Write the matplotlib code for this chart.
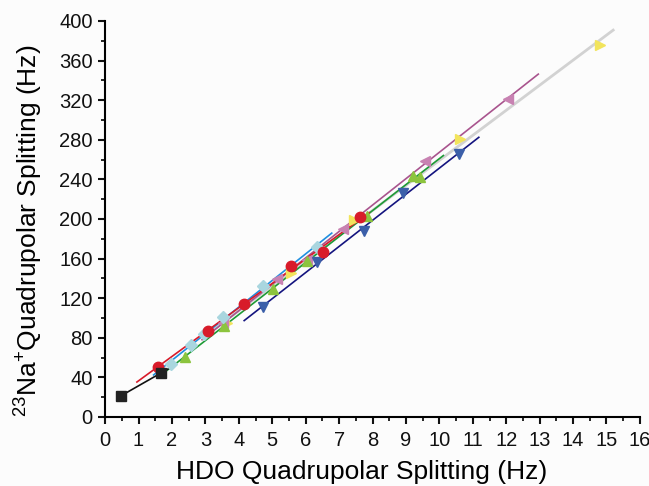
import numpy as np
import matplotlib
matplotlib.use("Agg")
import matplotlib.pyplot as plt
from matplotlib.ticker import MultipleLocator

plt.rcParams['font.family'] = ['Liberation Sans', 'DejaVu Sans']
plt.rcParams['mathtext.fontset'] = 'custom'
plt.rcParams['mathtext.rm'] = 'Liberation Sans'
plt.rcParams['mathtext.default'] = 'regular'

# data (HDO splitting, Na splitting)
black_x = [0.48, 1.67]
black_y = [21.5, 44.4]
red_x = [1.58, 3.07, 4.16, 5.55, 6.53, 7.63]
red_y = [50.8, 86.9, 114.4, 152.5, 167.0, 201.7]
green_x = [2.38, 3.56, 5.03, 6.03, 7.82, 9.22, 9.42]
green_y = [61.0, 92.0, 129.3, 158.0, 203.0, 243.8, 242.7]
navy_x = [4.73, 6.33, 7.73, 8.92, 10.6]
navy_y = [111.4, 157.0, 188.0, 226.0, 266.0]
purple_x = [3.54, 5.13, 6.03, 7.13, 9.57, 12.06]
purple_y = [95.3, 139.4, 158.6, 189.6, 259.0, 321.0]
yellow_x = [3.64, 5.55, 7.45, 10.62, 14.8]
yellow_y = [94.6, 145.0, 199.0, 280.5, 375.8]
cyan_x = [1.96, 2.56, 2.96, 3.54, 4.73, 6.33]
cyan_y = [53.5, 72.4, 83.8, 100.7, 132.6, 171.4]

# x range of each fitted line
black_fit = [0.48, 1.9]
red_fit = [0.95, 7.9]
green_fit = [1.8, 10.12]
navy_fit = [4.16, 11.18]
purple_fit = [2.9, 12.96]
yellow_fit = [3.2, 15.2]
cyan_fit = [1.45, 6.78]

series = [
    (yellow_x, yellow_y, yellow_fit, '>', '#f2e45c', '#d2d2d2', 2.0),
    (purple_x, purple_y, purple_fit, '<', '#c882b2', '#a9548e', 1.2),
    (navy_x, navy_y, navy_fit, 'v', '#3b5fa9', '#14147f', 1.2),
    (green_x, green_y, green_fit, '^', '#8cc43e', '#1d9a35', 1.2),
    (cyan_x, cyan_y, cyan_fit, 'D', '#a9d6df', '#1f8fe0', 1.2),
    (red_x, red_y, red_fit, 'o', '#d81b2a', '#d81b2a', 1.2),
    (black_x, black_y, black_fit, 's', '#222222', '#111111', 1.2),
]

fig = plt.figure(figsize=(6.49, 4.86), dpi=100)
fig.patch.set_facecolor('#fcfcfc')
ax = fig.add_axes([0.162, 0.142, 0.824, 0.815])
ax.set_facecolor('#fcfcfc')

for xs, ys, fit, mk, mc, lc, lw in series:
    k, b = np.polyfit(xs, ys, 1)
    fx = np.array(fit)
    ax.plot(fx, k * fx + b, color=lc, lw=lw, zorder=2)
for xs, ys, fit, mk, mc, lc, lw in series:
    ms = 6 if mk == 'D' else 7.5
    ax.plot(xs, ys, linestyle='none', marker=mk, ms=ms, color=mc, mec=mc, zorder=3)

ax.set_xlim(0, 16)
ax.set_ylim(0, 400)
ax.xaxis.set_major_locator(MultipleLocator(1))
ax.xaxis.set_minor_locator(MultipleLocator(0.5))
ax.yaxis.set_major_locator(MultipleLocator(40))
ax.yaxis.set_minor_locator(MultipleLocator(20))
ax.spines['top'].set_visible(False)
ax.spines['right'].set_visible(False)
ax.spines['left'].set_linewidth(1.5)
ax.spines['bottom'].set_linewidth(1.5)
ax.tick_params(which='major', direction='out', length=5, width=1.5, labelsize=14.5, colors='#111111')
ax.tick_params(which='minor', direction='out', length=3, width=1.2)
ax.tick_params(axis='x', pad=5)
ax.tick_params(axis='y', pad=4)

ax.set_xlabel('HDO Quadrupolar Splitting (Hz)', fontsize=19)
ax.xaxis.set_label_coords(0.48, -0.108)
ax.set_ylabel('$^{23}$Na$^{+}$Quadrupolar Splitting (Hz)', fontsize=19)
ax.yaxis.set_label_coords(-0.112, 0.47)

fig.savefig('out.png', dpi=100, facecolor=fig.get_facecolor())
